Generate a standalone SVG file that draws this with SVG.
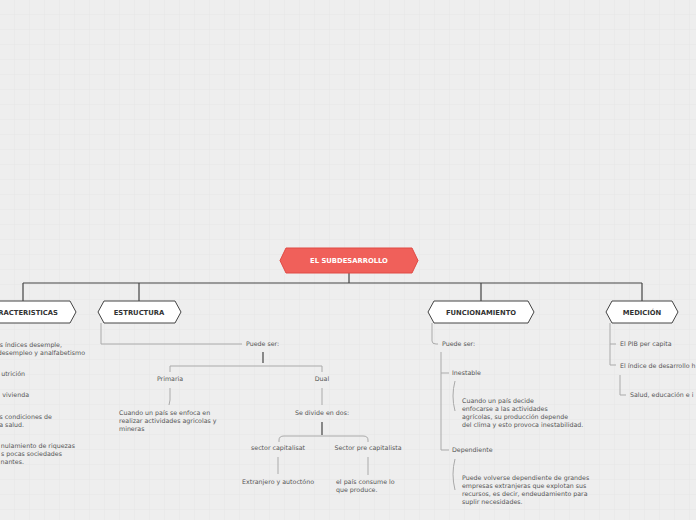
<svg xmlns="http://www.w3.org/2000/svg" width="696" height="520" viewBox="0 0 696 520">
<defs>
<pattern id="g" width="15" height="15" patternUnits="userSpaceOnUse"><path d="M15 0V15H0" fill="none" stroke="#e2e2e2" stroke-width="0.6"/></pattern>
<style>
text{font-family:"DejaVu Sans",Verdana,sans-serif;font-size:6.3px;fill:#555}
.h{font-weight:bold;font-size:6.8px;fill:#333;text-anchor:middle}
.c{text-anchor:middle}
.e{text-anchor:end}
.n{fill:#fff;stroke:#444;stroke-width:1}
.d{fill:none;stroke:#444;stroke-width:1.2}
.l{fill:none;stroke:#aaa;stroke-width:1}
</style>
</defs>
<rect width="696" height="520" fill="#eeeeee"/>
<rect width="696" height="520" fill="url(#g)"/>
<g id="connectors">
<path class="d" d="M349 273V283M23 283H642M23 283V301M139 283V301M481 283V301M642 283V301"/>
<path class="l" d="M101 323V344H242"/>
<path class="d" d="M263 352V363"/>
<path class="l" d="M170 372V366H322V372M170 388V400L169 405M322 388V405"/>
<path class="d" d="M322 422V435"/>
<path class="l" d="M279 442V440Q279 436 284 436H363Q368 436 368 440V442M278 457V474M368 457V475"/>
<path class="l" d="M432 323V341Q432 344 436 344H438M441 352V450H449M441 373H449"/>
<path class="l" d="M455 381Q451 396 455 411M455 459Q451 474 455 490"/>
<path class="l" d="M610 323V365H616M610 344H616M620 375V395H626"/>
</g>
<g id="root"><path d="M286 248H412L418 260.5L412 273H286L280 260.5Z" fill="#f0605a" stroke="#e04a44"/><text x="349" y="263" class="h" style="fill:#fff">EL SUBDESARROLLO</text></g>
<g id="caracteristicas"><path class="n" d="M-30 301H70L76 312L70 323H-30Z"/><text x="23" y="315" class="h">CARACTERISTICAS</text>
<text x="62" y="347" class="e">s índices desemple,</text><text x="85" y="355" class="e">desempleo y analfabetismo</text>
<text x="25" y="376" class="e">utrición</text><text x="29" y="397" class="e">vivienda</text>
<text x="52" y="419" class="e">s condiciones de</text><text x="24" y="427" class="e">a salud.</text>
<text x="75" y="448" class="e">nulamiento de riquezas</text><text x="62" y="456" class="e">s pocas sociedades</text><text x="24" y="464" class="e">nantes.</text></g>
<g id="estructura"><path class="n" d="M104 301H175L181 312L175 323H104L98 312Z"/><text x="139" y="315" class="h">ESTRUCTURA</text>
<text x="246" y="346">Puede ser:</text>
<text x="170" y="381" class="c">Primaria</text><text x="322" y="381" class="c">Dual</text>
<text x="119" y="415">Cuando un país se enfoca en</text><text x="119" y="423">realizar actividades agricolas y</text><text x="119" y="431">mineras</text>
<text x="322" y="415" class="c">Se divide en dos:</text>
<text x="278" y="450" class="c">sector capitalisat</text><text x="368" y="450" class="c">Sector pre capitalista</text>
<text x="278" y="484" class="c">Extranjero y autoctóno</text>
<text x="336" y="484">el país consume lo</text><text x="336" y="492">que produce.</text></g>
<g id="funcionamiento"><path class="n" d="M434 301H528L534 312L528 323H434L428 312Z"/><text x="481" y="315" class="h">FUNCIONAMIENTO</text>
<text x="442" y="346">Puede ser:</text><text x="452" y="375">Inestable</text>
<text x="462" y="403">Cuando un país decide</text><text x="462" y="411">enfocarse a las actividades</text><text x="462" y="419">agrícolas, su producción depende</text><text x="462" y="427">del clima y esto provoca inestabilidad.</text>
<text x="452" y="452">Dependiente</text>
<text x="462" y="480">Puede volverse dependiente de grandes</text><text x="462" y="488">empresas extranjeras que explotan sus</text><text x="462" y="496">recursos, es decir, endeudamiento para</text><text x="462" y="504">suplir necesidades.</text></g>
<g id="medicion"><path class="n" d="M612 301H672L678 312L672 323H612L606 312Z"/><text x="642" y="315" class="h">MEDICIÓN</text>
<text x="620" y="346">El PIB per capita</text><text x="620" y="368">El índice de desarrollo h</text><text x="630" y="397">Salud, educación e i</text></g>
</svg>
